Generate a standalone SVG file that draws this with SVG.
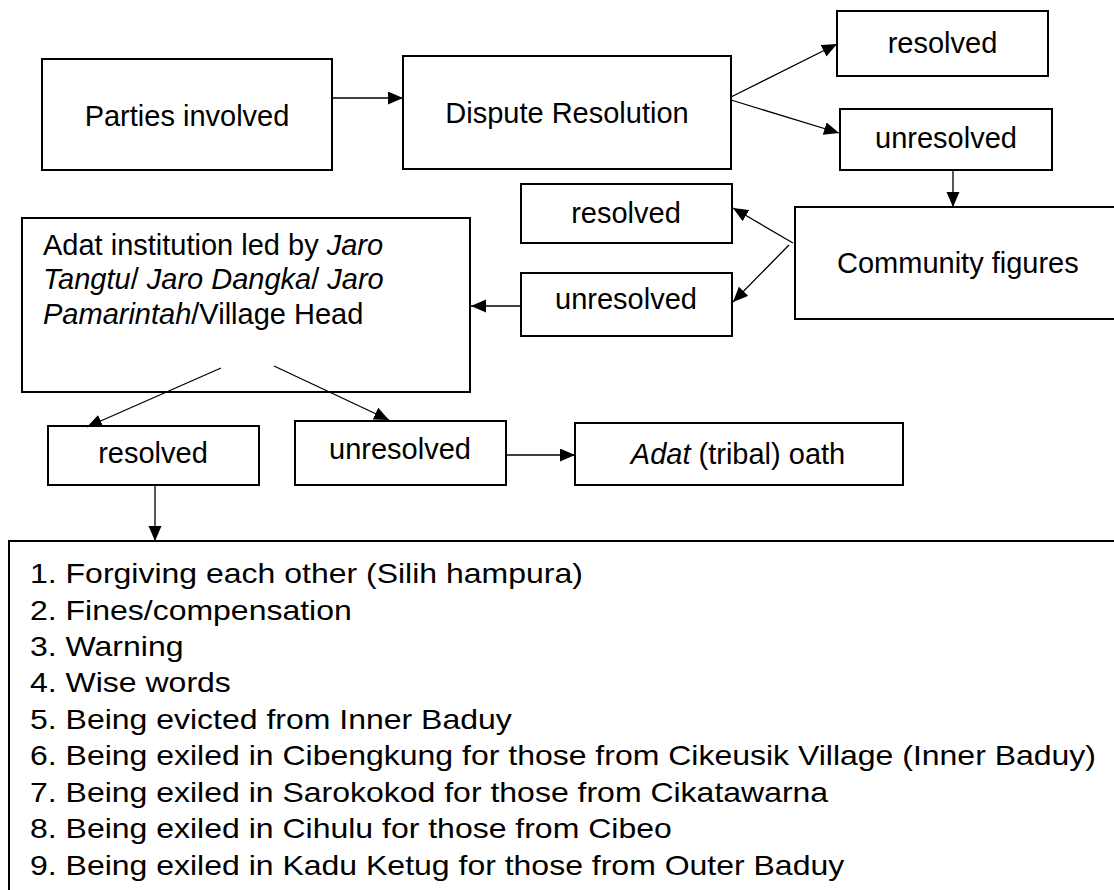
<svg xmlns="http://www.w3.org/2000/svg" width="1114" height="890" viewBox="0 0 1114 890">
<style>
.box{fill:#fff;stroke:#000;stroke-width:2}
.t{font-family:"Liberation Sans",Arial,Helvetica,sans-serif;font-size:29px;fill:#000}
.c{text-anchor:middle}
.l{font-family:"Liberation Sans",Arial,Helvetica,sans-serif;font-size:28px;fill:#000}
.conn line{stroke:#000;stroke-width:1.3;marker-end:url(#ah)}
</style>
<defs>
<marker id="ah" markerUnits="userSpaceOnUse" markerWidth="16" markerHeight="14" refX="15" refY="6.5" orient="auto">
<path d="M0,0 L15,6.5 L0,13 z" fill="#000"/>
</marker>
</defs>
<rect width="1114" height="890" fill="#fff"/>
<g id="parties"><rect class="box" x="42" y="59" width="290" height="111"/><text class="t c" x="187" y="126">Parties involved</text></g>
<g id="dispute"><rect class="box" x="403" y="56" width="328" height="113"/><text class="t c" x="567" y="123">Dispute Resolution</text></g>
<g id="resolved1"><rect class="box" x="837" y="11" width="211" height="65"/><text class="t c" x="942.5" y="53">resolved</text></g>
<g id="unresolved1"><rect class="box" x="840" y="109" width="212" height="61"/><text class="t c" x="946" y="148">unresolved</text></g>
<g id="community"><rect class="box" x="795" y="207" width="330" height="112"/><text class="t" x="837" y="273">Community figures</text></g>
<g id="resolved2"><rect class="box" x="521" y="184" width="211" height="59"/><text class="t c" x="626" y="223">resolved</text></g>
<g id="unresolved2"><rect class="box" x="521" y="273" width="211" height="63"/><text class="t c" x="626" y="309">unresolved</text></g>
<g id="adat"><rect class="box" x="22" y="218" width="448" height="174"/>
<text class="t" x="43" y="255">Adat institution led by <tspan font-style="italic">Jaro</tspan></text>
<text class="t" x="43" y="289"><tspan font-style="italic">Tangtu</tspan>/ <tspan font-style="italic">Jaro Dangka</tspan>/ <tspan font-style="italic">Jaro</tspan></text>
<text class="t" x="43" y="324"><tspan font-style="italic">Pamarintah</tspan>/Village Head</text></g>
<g id="resolved3"><rect class="box" x="48" y="426" width="211" height="59"/><text class="t c" x="153" y="463">resolved</text></g>
<g id="unresolved3"><rect class="box" x="295" y="421" width="211" height="64"/><text class="t c" x="400" y="459">unresolved</text></g>
<g id="oath"><rect class="box" x="575" y="423" width="328" height="62"/><text class="t c" x="738" y="464"><tspan font-style="italic">Adat</tspan> (tribal) oath</text></g>
<g id="outcomes"><rect class="box" x="9" y="541" width="1115" height="360"/>
<g transform="translate(30,0) scale(1.143,1)">
<text class="l" x="0" y="583">1. Forgiving each other (Silih hampura)</text>
<text class="l" x="0" y="620">2. Fines/compensation</text>
<text class="l" x="0" y="656">3. Warning</text>
<text class="l" x="0" y="692">4. Wise words</text>
<text class="l" x="0" y="729">5. Being evicted from Inner Baduy</text>
<text class="l" x="0" y="765">6. Being exiled in Cibengkung for those from Cikeusik Village (Inner Baduy)</text>
<text class="l" x="0" y="802">7. Being exiled in Sarokokod for those from Cikatawarna</text>
<text class="l" x="0" y="838">8. Being exiled in Cihulu for those from Cibeo</text>
<text class="l" x="0" y="875">9. Being exiled in Kadu Ketug for those from Outer Baduy</text>
</g></g>
<g id="connectors" class="conn">
<line x1="332" y1="98" x2="403" y2="98"/>
<line x1="731" y1="97" x2="837" y2="44"/>
<line x1="731" y1="100" x2="839" y2="133"/>
<line x1="953" y1="170" x2="953" y2="207"/>
<line x1="793" y1="243" x2="733" y2="208"/>
<line x1="789" y1="245" x2="733" y2="302"/>
<line x1="521" y1="306" x2="471" y2="306"/>
<line x1="221" y1="368" x2="87" y2="427"/>
<line x1="274" y1="366" x2="389" y2="420"/>
<line x1="506" y1="455" x2="575" y2="455"/>
<line x1="155" y1="485" x2="155" y2="541"/>
</g>
</svg>
